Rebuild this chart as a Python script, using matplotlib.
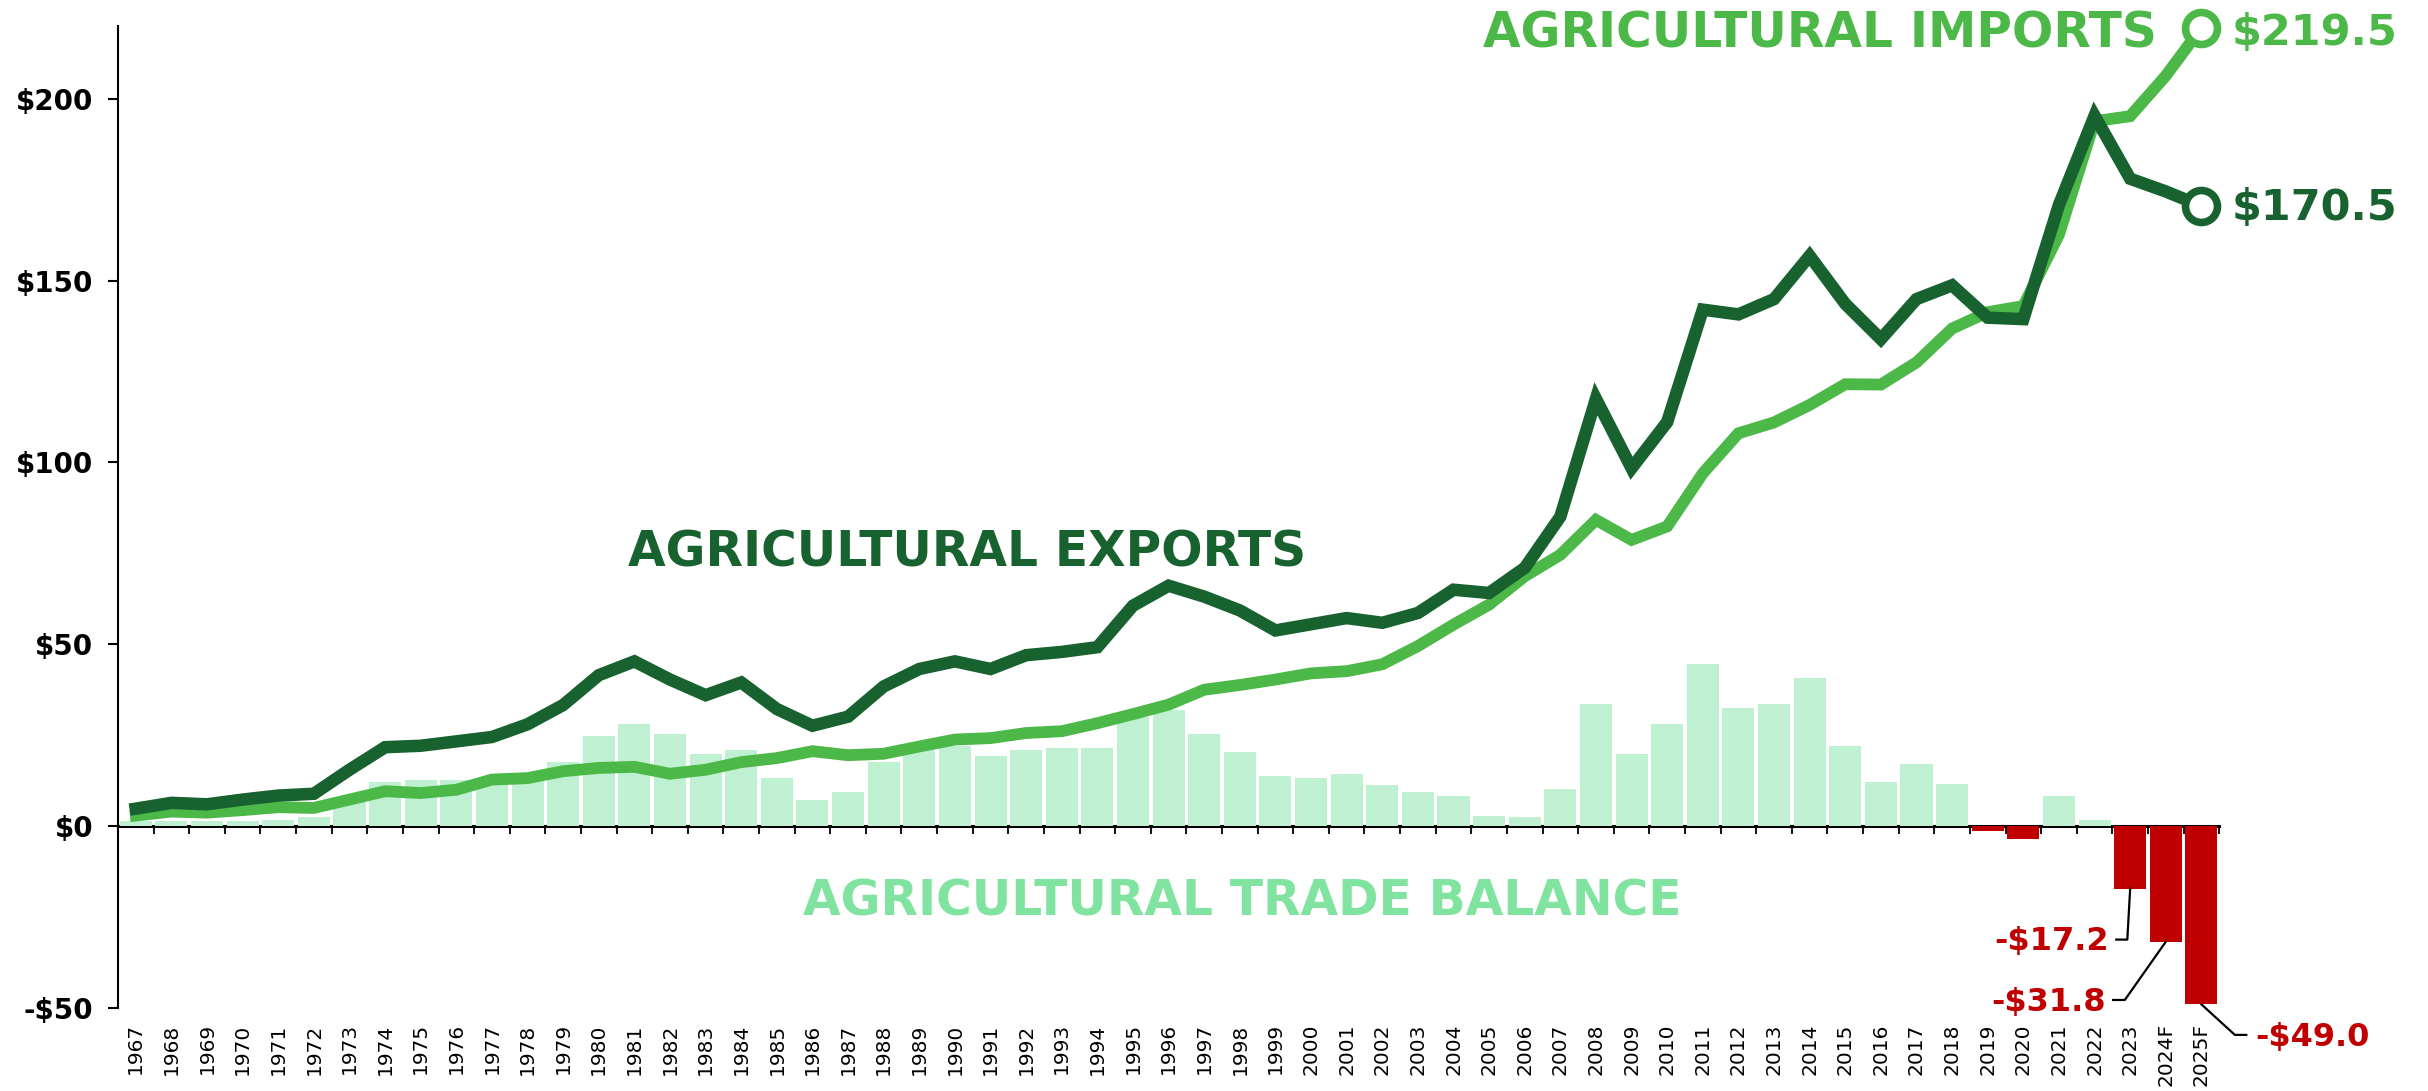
import matplotlib
matplotlib.use("Agg")
import matplotlib.pyplot as plt
import numpy as np

# US agricultural trade, $ billion
years = [str(y) for y in range(1967, 2024)] + ["2024F", "2025F"]

exports = [4.8, 6.4, 6.0, 7.3, 8.4, 8.9, 15.5, 21.7, 22.1, 23.3,
           24.5, 28.0, 33.3, 41.5, 45.3, 40.3, 36.0, 39.5, 32.2, 27.6,
           30.1, 38.4, 43.2, 45.3, 43.2, 47.0, 47.9, 49.2, 60.6, 66.1,
           63.1, 59.3, 53.8, 55.5, 57.2, 55.9, 58.6, 65.0, 64.1, 71.0,
           85.1, 117.5, 98.4, 111.1, 142.0, 140.7, 144.9, 156.8, 143.6, 133.9,
           144.9, 148.7, 139.8, 139.4, 170.8, 195.3, 178.0, 174.5, 170.5]

imports = [2.9, 4.0, 3.7, 4.4, 5.2, 5.0, 7.3, 9.6, 9.1, 10.0,
           12.8, 13.2, 15.1, 16.0, 16.3, 14.4, 15.5, 17.6, 18.7, 20.6,
           19.5, 19.9, 21.9, 23.8, 24.2, 25.6, 26.1, 28.3, 30.8, 33.4,
           37.5, 38.8, 40.3, 42.0, 42.6, 44.5, 49.5, 55.4, 60.9, 68.7,
           74.6, 84.2, 78.7, 82.4, 97.0, 108.0, 111.0, 115.8, 121.5, 121.4,
           127.5, 136.8, 141.3, 143.0, 162.6, 193.8, 195.2, 206.3, 219.5]

balance = [1.4, 1.3, 1.3, 1.3, 1.8, 2.4, 8.0, 12.2, 12.8, 12.8,
           11.7, 14.5, 17.7, 24.9, 28.2, 25.4, 19.9, 21.0, 13.3, 7.3,
           9.5, 17.7, 20.8, 21.9, 19.4, 21.0, 21.6, 21.6, 30.0, 32.0,
           25.4, 20.5, 13.9, 13.3, 14.4, 11.2, 9.5, 8.4, 2.9, 2.4,
           10.1, 33.6, 19.9, 28.2, 44.6, 32.5, 33.6, 40.8, 22.1, 12.2,
           17.2, 11.7, -1.4, -3.6, 8.4, 1.8, -17.2, -31.8, -49.0]

yticks = [-50, 0, 50, 100, 150, 200]

# last three deficits get a leader line: (bar index, leader dx, leader dy, horizontal run)
deficit_labels = [(56, -0.08, -14.0, -0.31),
                  (57, -1.15, -16.0, -0.33),
                  (58, 0.94, -8.4, 0.32)]

DARK = "#17622f"
LIGHT = "#4cb848"
MINT = "#c0f0d2"
MINT_TEXT = "#80e3a0"
RED = "#c00000"

plt.rcParams["font.family"] = ["DejaVu Sans"]

fig = plt.figure(figsize=(24.28, 10.91), dpi=100)
ax = fig.add_axes([0.0486, 0.0761, 0.8654, 0.9001])

x = np.arange(len(years))
bal = np.array(balance)
bar_colors = [MINT if v >= 0 else RED for v in bal]
ax.bar(x, bal, width=0.9, color=bar_colors, zorder=1)

ax.plot(x, imports, color=LIGHT, lw=8.5, zorder=3, solid_joinstyle="miter")
ax.plot(x, exports, color=DARK, lw=9, zorder=4, solid_joinstyle="miter")

# open circles at the end of each series
ax.plot(x[-1], imports[-1], "o", ms=23, mfc="white", mec=LIGHT, mew=5.5, zorder=5, clip_on=False)
ax.plot(x[-1], exports[-1], "o", ms=23, mfc="white", mec=DARK, mew=5.5, zorder=5, clip_on=False)

ax.text(x[-1] + 0.84, imports[-1] - 1.5, f"${imports[-1]:.1f}", color=LIGHT,
        fontsize=31, fontweight="bold", va="center", ha="left")
ax.text(x[-1] + 0.84, exports[-1] - 0.6, f"${exports[-1]:.1f}", color=DARK,
        fontsize=31, fontweight="bold", va="center", ha="left")

ax.text(23.33, 75.2, "AGRICULTURAL EXPORTS", color=DARK, fontsize=35,
        fontweight="bold", ha="center", va="center")
ax.text(56.76, 217.8, "AGRICULTURAL IMPORTS", color=LIGHT, fontsize=35,
        fontweight="bold", ha="right", va="center")
ax.text(31.08, -20.6, "AGRICULTURAL TRADE BALANCE", color=MINT_TEXT, fontsize=35,
        fontweight="bold", ha="center", va="center")

for i, dx, dy, run in deficit_labels:
    v = balance[i]
    ex, ey = i + dx, v + dy
    hx = ex + run
    ax.plot([i, ex, hx], [v, ey, ey], color="black", lw=1.6, clip_on=False, zorder=6)
    if run > 0:
        ax.text(hx + 0.25, ey - 0.6, f"-${abs(v):.1f}", color=RED, fontsize=23,
                fontweight="bold", ha="left", va="center")
    else:
        ax.text(hx - 0.2, ey - 0.6, f"-${abs(v):.1f}", color=RED, fontsize=23,
                fontweight="bold", ha="right", va="center")

ax.set_xlim(-0.5, len(years) - 0.5)
ax.set_ylim(-50, 220)

ax.set_yticks(yticks)
ax.set_yticklabels([f"${v}" if v >= 0 else f"-${-v}" for v in yticks],
                   fontsize=20, fontweight="bold")
ax.tick_params(axis="y", length=7, width=1.5, pad=11)

ax.set_xticks(x)
ax.set_xticklabels(years, rotation=90, fontsize=14.5)
ax.tick_params(axis="x", length=0, pad=11)

for side in ["top", "right", "bottom"]:
    ax.spines[side].set_visible(False)
ax.spines["left"].set_linewidth(1.5)

# zero line with tick marks between the bars
y0, y1 = ax.get_ylim()
zero_frac = (0 - y0) / (y1 - y0)
zax = ax.secondary_xaxis(zero_frac)
zax.set_xticks(np.arange(-0.5, len(years)))
zax.set_xticklabels([])
zax.tick_params(axis="x", direction="out", length=6, width=1.3)
zax.spines["bottom"].set_linewidth(2.2)

fig.savefig("out.png", dpi=100)
